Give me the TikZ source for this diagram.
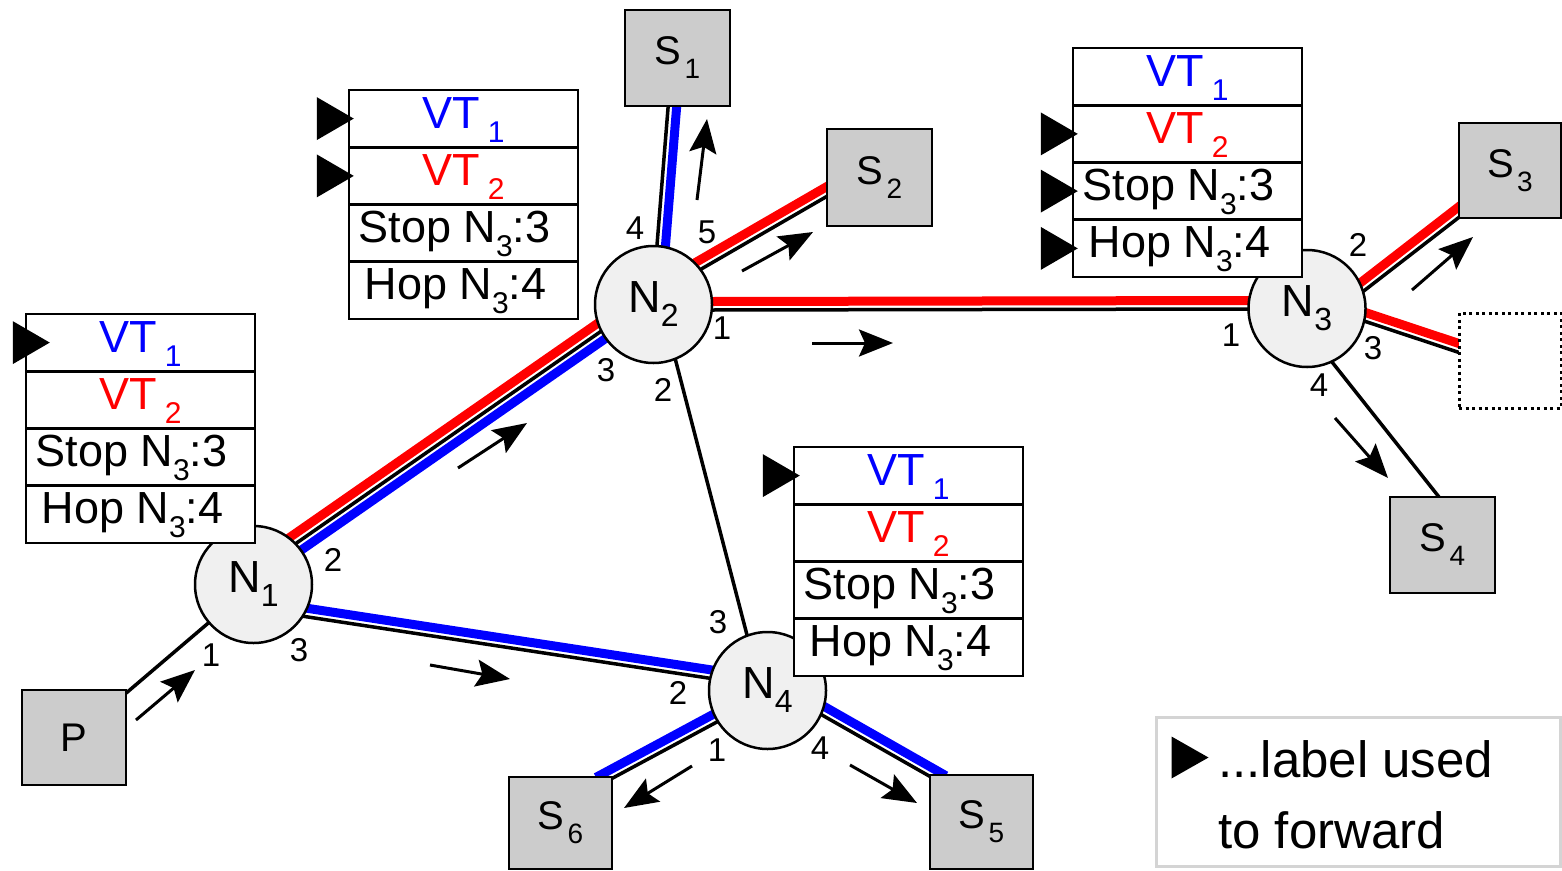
\documentclass[tikz,border=0pt]{standalone}
\usepackage{fontspec}
\setmainfont{Liberation Sans}
\usetikzlibrary{arrows.meta,calc}
\pgfdeclarelayer{bg}
\pgfsetlayers{bg,main}
\definecolor{nodefill}{HTML}{F0F0F0}
\definecolor{boxfill}{HTML}{CCCCCC}
\definecolor{leggray}{HTML}{D4D4D4}
\definecolor{vtred}{HTML}{FF0000}
\definecolor{vtblue}{HTML}{0000FF}
\newcommand\sbs[2][30]{\raisebox{-14pt}{\fontsize{#1}{#1}\selectfont #2}}
\newcommand\mylink[4]{\draw[#4] ($($(#1)!-15pt!(#2)$)!#3!90:(#2)$) -- ($($(#2)!-15pt!(#1)$)!#3!-90:(#1)$);}
\newcommand\mymark[2]{\fill ($(#1.west)+(#2,-21.5)$) -- ($(#1.west)+(#2+37,0)$) -- ($(#1.west)+(#2,21.5)$) -- cycle;}
\newcommand\vtable[3]{%
  \node[row, text=vtblue] (#1a) at (#2, #3+28.6) {VT\hspace{8pt}\sbs{1}};
  \node[row, text=vtred] (#1b) at (#2, #3+85.9) {VT\hspace{8pt}\sbs{2}};
  \node[row] (#1c) at (#2, #3+143.1) {Stop N\sbs{3}:3\hspace{18pt}\mbox{}};
  \node[row] (#1d) at (#2, #3+200.4) {Hop N\sbs{3}:4\hspace{16pt}\mbox{}};
}
\tikzset{
  rnode/.style={circle, draw, line width=2.5pt, fill=nodefill, minimum size=117pt, inner sep=0pt, font=\fontsize{45}{45}\selectfont},
  sbox/.style={rectangle, draw, line width=2.5pt, fill=boxfill, minimum width=104pt, minimum height=95pt, inner sep=0pt, font=\fontsize{40}{40}\selectfont},
  ghost/.style={rectangle, draw, line width=3pt, dash pattern=on 3pt off 3.5pt, fill=white, minimum width=102pt, minimum height=95pt, inner sep=0pt},
  row/.style={rectangle, draw, line width=2.5pt, fill=white, minimum width=229pt, minimum height=57.25pt, inner sep=0pt, text height=33pt, text depth=14pt, font=\fontsize{45}{45}\selectfont},
  port/.style={inner sep=0pt, font=\fontsize{33}{33}\selectfont},
  blk/.style={line width=3.5pt, black},
  redl/.style={line width=9pt, vtred},
  bluel/.style={line width=9pt, vtblue},
  fwd/.style={line width=3pt, -{Stealth[length=34pt,width=27pt,inset=6pt]}},
}
\begin{document}
\begin{tikzpicture}[x=1pt,y=-1pt]
\useasboundingbox (0,0) rectangle (1562,870);
% nodes
\node[rnode] (N1) at (253.5,584.5) {N\sbs[32]{1}};
\node[rnode] (N2) at (653.5,304.5) {N\sbs[32]{2}};
\node[rnode] (N3) at (1307,308.5) {N\sbs[32]{3}};
\node[rnode] (N4) at (767.5,690.5) {N\sbs[32]{4}};
\node[sbox] (P) at (74,737.5) {P};
\node[sbox, minimum width=105pt, minimum height=96pt] (S1) at (677.5,58) {S\hspace{3pt}\sbs[28]{1}};
\node[sbox, minimum width=105pt, minimum height=97pt] (S2) at (879.5,177.5) {S\hspace{3pt}\sbs[28]{2}};
\node[sbox, minimum width=102pt] (S3) at (1510,170.5) {S\hspace{3pt}\sbs[28]{3}};
\node[sbox, minimum width=105pt, minimum height=96pt] (S4) at (1442.5,545) {S\hspace{3pt}\sbs[28]{4}};
\node[sbox, minimum width=103pt, minimum height=94pt] (S5) at (981.5,822) {S\hspace{3pt}\sbs[28]{5}};
\node[sbox, minimum width=103pt, minimum height=92pt] (S6) at (560.5,823) {S\hspace{3pt}\sbs[28]{6}};
\node[ghost] (D) at (1510,360.5) {};
% link end points
\coordinate (e12a) at ($(N1)+(44.5,-42.5)$);
\coordinate (e12b) at ($(N2)+(-53.5,27.5)$);
\coordinate (e14a) at ($(N1)+(54.5,32.5)$);
\coordinate (e14b) at ($(N4)+(-59.5,-12.5)$);
\coordinate (e24a) at ($(N2)+(21.5,53.5)$);
\coordinate (e24b) at ($(N4)+(-20.5,-55.5)$);
\coordinate (e2s1a) at ($(N2)+(3.5,-59.5)$);
\coordinate (e2s1b) at ($(S1.south)+(-9.5,1)$);
\coordinate (e2s2a) at ($(N2)+(49.5,-36.5)$);
\coordinate (e2s2b) at ($(S2.west)+(0,19.5)$);
\coordinate (e23a) at ($(N2)+(58.5,5.5)$);
\coordinate (e23b) at ($(N3)+(-60,0.5)$);
\coordinate (e3s3a) at ($(N3)+(58,-18.5)$);
\coordinate (e3s3b) at ($(S3.south west)+(0,-1)$);
\coordinate (e3da) at ($(N3)+(60,13.5)$);
\coordinate (e3db) at ($(D.west)+(0,-8.5)$);
\coordinate (e3s4a) at ($(N3)+(25,53.5)$);
\coordinate (e3s4b) at ($(S4.north)+(-4.5,0)$);
\coordinate (e4s6a) at ($(N4)+(-52.5,32.5)$);
\coordinate (e4s6b) at ($(S6.north east)+(0,2)$);
\coordinate (e4s5a) at ($(N4)+(54.5,24.5)$);
\coordinate (e4s5b) at ($(S5.north west)+(0,2)$);
% links
\begin{pgfonlayer}{bg}
  \mylink{P}{N1}{0pt}{blk}
  \mylink{e12a}{e12b}{0pt}{blk}
  \mylink{e12a}{e12b}{8.5pt}{redl}
  \mylink{e12a}{e12b}{-8.5pt}{bluel}
  \mylink{e14a}{e14b}{0pt}{blk}
  \mylink{e14a}{e14b}{8.5pt}{bluel}
  \mylink{e24a}{e24b}{0pt}{blk}
  \mylink{e2s1a}{e2s1b}{0pt}{blk}
  \mylink{e2s1a}{e2s1b}{-8.5pt}{bluel}
  \mylink{e2s2a}{e2s2b}{0pt}{blk}
  \mylink{e2s2a}{e2s2b}{8.5pt}{redl}
  \mylink{e23a}{e23b}{0pt}{blk}
  \mylink{e23a}{e23b}{8.5pt}{redl}
  \mylink{e3s3a}{e3s3b}{0pt}{blk}
  \mylink{e3s3a}{e3s3b}{8.5pt}{redl}
  \mylink{e3da}{e3db}{0pt}{blk}
  \mylink{e3da}{e3db}{8.5pt}{redl}
  \mylink{e3s4a}{e3s4b}{0pt}{blk}
  \mylink{e4s6a}{e4s6b}{0pt}{blk}
  \mylink{e4s6a}{e4s6b}{-8.5pt}{bluel}
  \mylink{e4s5a}{e4s5b}{0pt}{blk}
  \mylink{e4s5a}{e4s5b}{8.5pt}{bluel}
\end{pgfonlayer}
% tables
\vtable{ta}{140.5}{314}
\vtable{tb}{463.5}{90}
\vtable{tc}{1187.5}{48}
\vtable{td}{908.5}{447}
\mymark{taa}{-12}
\mymark{tba}{-31}
\mymark{tbb}{-31}
\mymark{tcb}{-31}
\mymark{tcc}{-31}
\mymark{tcd}{-31}
\mymark{tda}{-30}
% port labels
\node[port] (p11) at (211,655) {1};
\node[port] (p12) at (333,560) {2};
\node[port] (p13) at (299,650) {3};
\node[port] (p24) at (635,228) {4};
\node[port] (p25) at (707,232) {5};
\node[port] (p21) at (722,328) {1};
\node[port] (p23) at (606,370) {3};
\node[port] (p22) at (663,390) {2};
\node[port] (p31) at (1231,335) {1};
\node[port] (p32) at (1358,245) {2};
\node[port] (p33) at (1373,348) {3};
\node[port] (p34) at (1319,385) {4};
\node[port] (p43) at (718,622) {3};
\node[port] (p42) at (678,693) {2};
\node[port] (p41) at (717,750) {1};
\node[port] (p44) at (820,748) {4};
% forwarding arrows
\draw[fwd] (136,720) -- (195,670);
\draw[fwd] (458,468) -- (527,423);
\draw[fwd] (430,665) -- (510,679);
\draw[fwd] (697,200) -- (707,119);
\draw[fwd] (742,271) -- (813,232);
\draw[fwd] (812,343) -- (893,343);
\draw[fwd] (1412,290) -- (1473,237);
\draw[fwd] (1335,418) -- (1388,478);
\draw[fwd] (692,766) -- (624,808);
\draw[fwd] (850,765) -- (917,803);
% legend
\node[draw=leggray, line width=3pt, minimum width=404pt, minimum height=149pt, inner sep=0pt] (leg) at (1358,791.5) {};
\fill ($(leg.north west)+(17,21)$) -- ($(leg.north west)+(54,42)$) -- ($(leg.north west)+(17,63)$) -- cycle;
\node[anchor=base west, inner sep=0pt, font=\fontsize{51}{51}\selectfont] (leg1) at (1218,777) {...label used};
\node[anchor=base west, inner sep=0pt, font=\fontsize{51}{51}\selectfont] (leg2) at (1218,848) {to forward};
\end{tikzpicture}
\end{document}
